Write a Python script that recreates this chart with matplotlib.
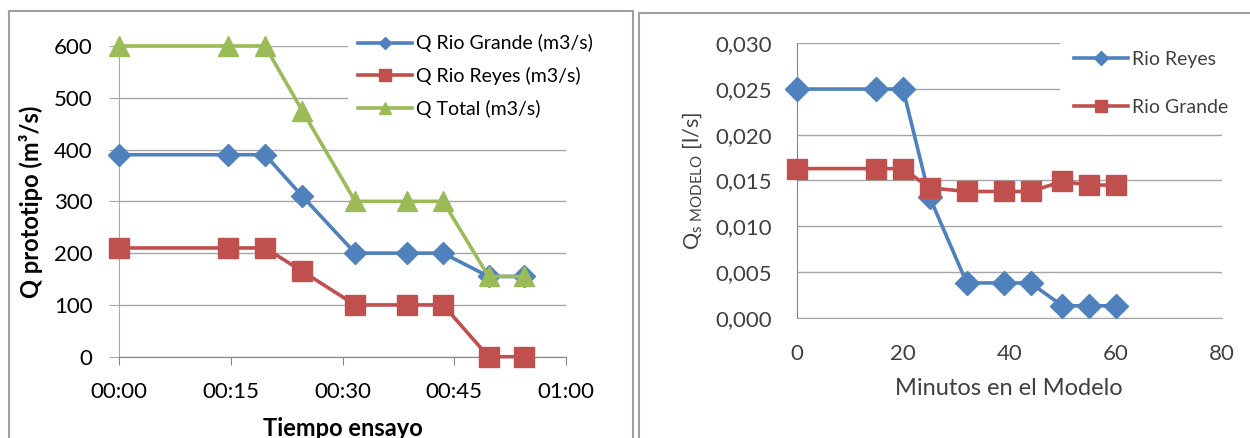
import matplotlib
matplotlib.use('Agg')
import matplotlib.pyplot as plt
from matplotlib.patches import Rectangle

plt.rcParams['font.family'] = ['Lato', 'DejaVu Sans']
plt.rcParams['mathtext.fontset'] = 'custom'
plt.rcParams['mathtext.rm'] = 'Lato'

# left chart: prototype discharge vs test time (minutes)
tiempo_min = [0, 14.6, 19.6, 24.6, 31.7, 38.6, 43.5, 49.6, 54.4]
q_rio_grande = [390, 390, 390, 310, 200, 200, 200, 155, 155]
q_rio_reyes = [210, 210, 210, 165, 100, 100, 100, 0, 0]
q_total = [600, 600, 600, 475, 300, 300, 300, 155, 155]
tiempo_ticks = [0, 15, 30, 45, 60]
tiempo_labels = ['00:00', '00:15', '00:30', '00:45', '01:00']
q_ticks = [0, 100, 200, 300, 400, 500, 600]

# right chart: model sediment discharge
minutos_modelo = [0, 15, 20, 25, 32, 39, 44, 50, 55, 60]
qs_rio_reyes = [0.025, 0.025, 0.025, 0.0132, 0.0038, 0.0038, 0.0038, 0.0013, 0.0013, 0.0013]
qs_rio_grande = [0.0163, 0.0163, 0.0163, 0.0142, 0.0138, 0.0138, 0.0138, 0.0149, 0.0145, 0.0145]
qs_ticks = [0.0, 0.005, 0.010, 0.015, 0.020, 0.025, 0.030]
qs_labels = ['0,000', '0,005', '0,010', '0,015', '0,020', '0,025', '0,030']
min_ticks = [0, 20, 40, 60, 80]

BLUE = '#4f81bd'
RED = '#c0504d'
GREEN = '#9bbb59'
GRID = '#a6a6a6'

fig = plt.figure(figsize=(12.5, 4.38), dpi=100)

# chart frames
fig.patches.append(Rectangle((9 / 1250, -0.05), (632.7 - 9) / 1250, 1.05 - 11 / 438,
                             transform=fig.transFigure, fill=False, ec='#a0a0a0', lw=1.5))
fig.patches.append(Rectangle((638.7 / 1250, -0.05), 0.6, 1.05 - 13.5 / 438,
                             transform=fig.transFigure, fill=False, ec='#a0a0a0', lw=1.5))

# ---- left
ax1 = fig.add_axes([0.0952, 0.1856, 0.4528 - 0.0952, 0.895 - 0.1856])
ax1.plot(tiempo_min, q_rio_grande, color=BLUE, lw=2.6, marker='D', ms=11, label='Q Rio Grande (m3/s)', clip_on=False, zorder=3)
ax1.plot(tiempo_min, q_rio_reyes, color=RED, lw=2.6, marker='s', ms=14, label='Q Rio Reyes (m3/s)', clip_on=False, zorder=3)
ax1.plot(tiempo_min, q_total, color=GREEN, lw=2.6, marker='^', ms=15, label='Q Total (m3/s)', clip_on=False, zorder=3)
ax1.set_xlim(0, 60)
ax1.set_ylim(0, 600)
ax1.set_xticks(tiempo_ticks)
ax1.set_xticklabels(tiempo_labels)
ax1.set_yticks(q_ticks)
ax1.grid(axis='y', color=GRID, lw=1)
ax1.set_axisbelow(True)
for s in ['top', 'right']:
    ax1.spines[s].set_visible(False)
ax1.spines['left'].set_color(GRID)
ax1.spines['bottom'].set_color('#868686')
ax1.tick_params(axis='x', length=6, color='#868686', labelsize=16, pad=12)
ax1.tick_params(axis='y', length=7, color=GRID, labelsize=16, pad=12)
ax1.set_xlabel('Tiempo ensayo', fontsize=17, fontweight='bold', labelpad=11)
ax1.set_ylabel('Q prototipo (m³/s)', fontsize=17, fontweight='bold', labelpad=8)
leg1 = ax1.legend(loc='upper left', bbox_to_anchor=(0.513, 1.069), fontsize=14, frameon=True,
                  facecolor='white', edgecolor='none', framealpha=1, fancybox=False,
                  handlelength=2.8, handletextpad=0.2, labelspacing=0.75, borderpad=0.5,
                  borderaxespad=0, markerscale=0.6)

# ---- right
ax2 = fig.add_axes([0.6374, 0.2747, 0.9774 - 0.6374, 0.9011 - 0.2747])
ax2.plot(minutos_modelo, qs_rio_reyes, color=BLUE, lw=2.6, marker='D', ms=12, label='Rio Reyes', clip_on=False, zorder=3)
ax2.plot(minutos_modelo, qs_rio_grande, color=RED, lw=2.6, marker='s', ms=15, label='Rio Grande', clip_on=False, zorder=3)
ax2.set_xlim(0, 80)
ax2.set_ylim(0, 0.030)
ax2.set_xticks(min_ticks)
ax2.set_yticks(qs_ticks)
ax2.set_yticklabels(qs_labels)
ax2.grid(axis='y', color=GRID, lw=1)
ax2.set_axisbelow(True)
for s in ['top', 'right']:
    ax2.spines[s].set_visible(False)
ax2.spines['left'].set_color('#868686')
ax2.spines['bottom'].set_color(GRID)
ax2.tick_params(length=0, labelsize=16, labelcolor='#404040')
ax2.tick_params(axis='x', pad=19)
ax2.tick_params(axis='y', pad=18)
ax2.set_xlabel('Minutos en el Modelo', fontsize=17, color='#404040', labelpad=10)
ax2.set_ylabel(r'Q$_{\mathrm{s\ MODELO}}$ [l/s]', fontsize=15.5, color='#404040', labelpad=7)
leg2 = ax2.legend(loc='upper left', bbox_to_anchor=(0.6195, 1.022), fontsize=14, frameon=True,
                  facecolor='white', edgecolor='none', framealpha=1, fancybox=False,
                  handlelength=2.8, handletextpad=0.2, labelspacing=1.6, borderpad=0.7,
                  borderaxespad=0, markerscale=0.6)
for t in leg2.get_texts():
    t.set_color('#404040')

fig.savefig('out.png', dpi=100)
